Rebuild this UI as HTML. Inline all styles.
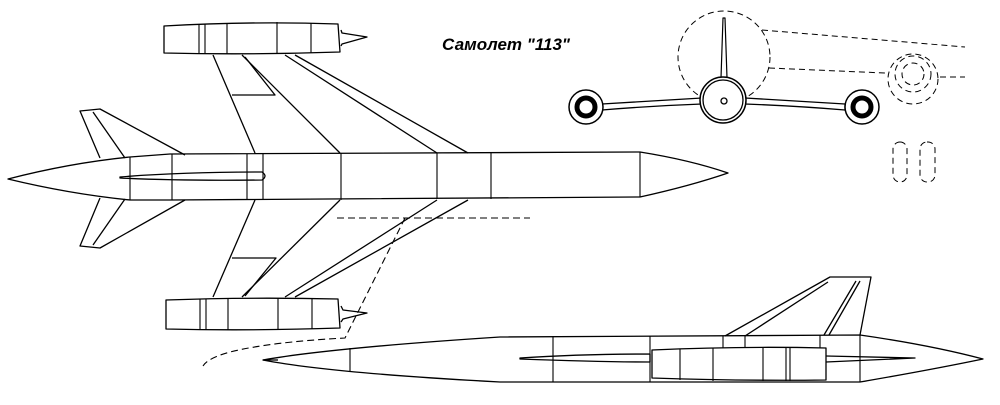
<!DOCTYPE html>
<html><head><meta charset="utf-8"><style>
html,body{margin:0;padding:0;background:#fff;}
svg{display:block;}
</style></head><body>
<svg width="1000" height="405" viewBox="0 0 1000 405" xmlns="http://www.w3.org/2000/svg" fill="none" stroke="#000" stroke-width="1.3" stroke-linejoin="round">
<!-- TOP VIEW -->
<path d="M8,179 Q70,163 130,157 L170,154 L640,152 Q690,160 728,173 Q690,186 640,197 L170,200 L130,200 Q70,194 8,179 Z" fill="#fff"/>
<g stroke-width="1.1">
<line x1="130" y1="157" x2="130" y2="200"/><line x1="172" y1="154" x2="172" y2="200"/>
<line x1="247" y1="154" x2="247" y2="200"/><line x1="263" y1="154" x2="263" y2="200"/>
<line x1="341" y1="153" x2="341" y2="200"/><line x1="437" y1="153" x2="437" y2="199"/>
<line x1="491" y1="152" x2="491" y2="199"/><line x1="640" y1="152" x2="640" y2="197"/>
</g>
<path d="M120,177 Q180,172 262,172 Q268,176 262,180 Q180,181 120,178 Z"/>
<line x1="213" y1="55" x2="255" y2="153"/><line x1="242" y1="55" x2="340" y2="153"/>
<line x1="285" y1="55" x2="437" y2="153"/><line x1="295" y1="55" x2="468" y2="153"/>
<polyline points="245,57 275,95 232,95"/>
<line x1="213" y1="297" x2="255" y2="200"/><line x1="242" y1="297" x2="340" y2="200"/>
<line x1="285" y1="297" x2="437" y2="200"/><line x1="295" y1="297" x2="468" y2="200"/>
<polyline points="245,296 276,258 232,258"/>
<path d="M100,158 L80,111 L100,109 L185,155"/><line x1="93" y1="112" x2="125" y2="158"/>
<path d="M100,198 L80,246 L100,248 L185,200"/><line x1="93" y1="245" x2="125" y2="199"/>
<path d="M164,26 Q250,21 338,24 L340,52 Q250,55 164,53 Z" fill="#fff"/>
<g stroke-width="1.1"><line x1="199" y1="24" x2="199" y2="53"/><line x1="205" y1="24" x2="205" y2="54"/><line x1="227" y1="23" x2="227" y2="54"/><line x1="277" y1="22" x2="277" y2="54"/><line x1="311" y1="23" x2="311" y2="53"/></g>
<path d="M341,30 L342,33 L367,37 L342,44 L341,46"/>
<path d="M166,300 Q250,297 338,299 L340,328 Q250,331 166,329 Z" fill="#fff"/>
<g stroke-width="1.1"><line x1="200" y1="299" x2="200" y2="329"/><line x1="206" y1="299" x2="206" y2="330"/><line x1="228" y1="298" x2="228" y2="330"/><line x1="278" y1="298" x2="278" y2="330"/><line x1="312" y1="299" x2="312" y2="329"/></g>
<path d="M341,306 L343,310 L367,313 L343,319 L341,322"/>
<g stroke-dasharray="7,4" stroke-width="1.1">
<line x1="337" y1="218" x2="530" y2="218"/>
<path d="M405,218 L345,338 Q270,342 230,352 Q208,358 203,366"/>
</g>
<text x="442" y="50" font-family="'Liberation Sans',sans-serif" font-size="17" font-weight="bold" font-style="italic" fill="#000" stroke="none">Самолет  "113"</text>
<!-- FRONT VIEW -->
<g stroke-dasharray="6,4" stroke-width="1">
<circle cx="724" cy="57" r="46"/>
<line x1="762" y1="30" x2="965" y2="47"/>
<line x1="769" y1="68" x2="885" y2="73"/>
<circle cx="913" cy="79" r="25"/><circle cx="913" cy="74" r="18"/><circle cx="913" cy="74" r="11"/>
<line x1="940" y1="77" x2="965" y2="77"/>
<rect x="893" y="142" width="14" height="40" rx="7"/>
<rect x="920" y="142" width="15" height="40" rx="7"/>
</g>
<path d="M721,78 L723,18 L725,18 L727,78" fill="#fff" stroke-width="1.2"/>
<path d="M602,104 Q650,101 702,98 L702,104 Q650,106 602,110 Z M845,104 Q797,101 745,98 L745,104 Q797,106 845,110 Z" fill="#fff"/>
<circle cx="723" cy="100" r="23" fill="#fff" stroke-width="1.5"/><circle cx="723" cy="100" r="20"/>
<circle cx="724" cy="101" r="3"/>
<circle cx="586" cy="107" r="17" fill="#fff" stroke-width="1.5"/><circle cx="586" cy="107" r="9" stroke-width="5"/>
<circle cx="862" cy="107" r="17" fill="#fff" stroke-width="1.5"/><circle cx="862" cy="107" r="9" stroke-width="5"/>
<!-- SIDE VIEW -->
<path d="M263,360 Q330,348 500,337 L860,335 Q930,345 983,359 Q930,370 860,382 L500,382 Q330,373 263,360 Z" fill="#fff"/>
<line x1="263" y1="360" x2="278" y2="360"/>
<g stroke-width="1.1"><line x1="350" y1="348" x2="350" y2="372"/><line x1="553" y1="336" x2="553" y2="382"/><line x1="650" y1="336" x2="650" y2="382"/><line x1="723" y1="336" x2="723" y2="348"/><line x1="745" y1="336" x2="745" y2="348"/><line x1="820" y1="335" x2="820" y2="348"/><line x1="860" y1="335" x2="860" y2="382"/></g>
<path d="M725,336 L830,277 L871,277 L860,335"/>
<line x1="745" y1="336" x2="828" y2="282"/>
<line x1="824" y1="335" x2="856" y2="281"/><line x1="829" y1="335" x2="860" y2="281"/>
<path d="M520,358 Q580,354 650,354 L650,362 Q600,362 520,359 Z"/>
<path d="M826,356 L915,358 L826,362"/>
<path d="M652,350 Q740,346 826,348 L826,380 Q740,381 652,378 Z" fill="#fff"/>
<g stroke-width="1.1"><line x1="680" y1="349" x2="680" y2="380"/><line x1="713" y1="348" x2="713" y2="381"/><line x1="763" y1="348" x2="763" y2="381"/><line x1="786" y1="348" x2="786" y2="381"/><line x1="790" y1="348" x2="790" y2="381"/></g>
</svg>
</body></html>
